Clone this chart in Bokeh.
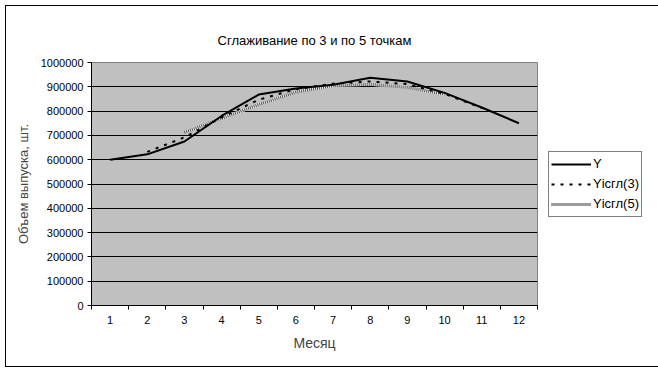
from bokeh.plotting import figure
from bokeh.models import (FixedTicker, Range1d, Legend, LegendItem,
                          BasicTickFormatter)
from bokeh.embed import file_html
from bokeh.resources import INLINE

# ---- data ----
months = [1, 2, 3, 4, 5, 6, 7, 8, 9, 10, 11, 12]
y_values = [600000, 622000, 675000, 780000, 868000, 893000, 908000, 937000, 922000, 875000, 815000, 750000]
months3 = [2, 3, 4, 5, 6, 7, 8, 9, 10, 11]
y3_values = [632000, 692000, 774000, 847000, 890000, 913000, 922000, 911000, 871000, 813000]
months5 = [3, 4, 5, 6, 7, 8, 9, 10]
y5_values = [712000, 770000, 827000, 878000, 905000, 910000, 897000, 870000]
y_ticks = [0, 100000, 200000, 300000, 400000, 500000, 600000, 700000, 800000, 900000, 1000000]
x_minor = [0.5 + i for i in range(13)]

title_text = "Сглаживание по 3 и по 5 точкам"
x_label = "Месяц"
y_label = "Объем выпуска, шт."
labels = ["Y", "Yісгл(3)", "Yісгл(5)"]

FONT = "Liberation Sans"

p = figure(width=645, height=360, frame_width=446, frame_height=243,
           output_backend="svg", toolbar_location=None,
           title=title_text,
           x_range=Range1d(0.5, 12.5), y_range=Range1d(0, 1000000),
           min_border_left=85, min_border_right=10, min_border_top=56, min_border_bottom=61)
p.styles = {"border": "1px solid black", "box-sizing": "content-box",
            "margin-left": "5px", "margin-top": "5px"}

p.background_fill_color = "#C0C0C0"
p.border_fill_color = "white"
p.outline_line_color = "#808080"

# title
p.title.align = "center"
p.title.offset = 14
p.title.standoff = 30
p.title.text_font = FONT
p.title.text_font_size = "13px"
p.title.text_font_style = "normal"
p.title.text_color = "black"

# grid
p.xgrid.visible = False
p.ygrid.ticker = FixedTicker(ticks=y_ticks[1:-1])
p.ygrid.grid_line_color = "black"
p.ygrid.grid_line_width = 1

# y axis
p.yaxis.ticker = FixedTicker(ticks=y_ticks)
p.yaxis.formatter = BasicTickFormatter(use_scientific=False)
p.yaxis.major_tick_out = 4
p.yaxis.major_tick_in = 0
p.yaxis.minor_tick_out = 0
p.yaxis.minor_tick_in = 0
p.yaxis.axis_line_color = "black"
p.yaxis.major_tick_line_color = "black"
p.yaxis.major_label_standoff = 4
p.yaxis.major_label_text_font = FONT
p.yaxis.major_label_text_font_size = "11px"
p.yaxis.major_label_text_color = "black"
p.yaxis.axis_label = y_label
p.yaxis.axis_label_text_font = FONT
p.yaxis.axis_label_text_font_size = "13px"
p.yaxis.axis_label_text_font_style = "normal"
p.yaxis.axis_label_standoff = 7

# x axis
p.xaxis.ticker = FixedTicker(ticks=months, minor_ticks=x_minor)
p.xaxis.major_tick_out = 0
p.xaxis.major_tick_in = 0
p.xaxis.minor_tick_out = 4
p.xaxis.minor_tick_in = 0
p.xaxis.minor_tick_line_color = "black"
p.xaxis.axis_line_color = "black"
p.xaxis.major_label_standoff = 6
p.xaxis.major_label_text_font = FONT
p.xaxis.major_label_text_font_size = "11px"
p.xaxis.major_label_text_color = "black"
p.xaxis.axis_label = x_label
p.xaxis.axis_label_text_font = FONT
p.xaxis.axis_label_text_font_size = "14px"
p.xaxis.axis_label_text_font_style = "normal"
p.xaxis.axis_label_standoff = 8

# series
r5a = p.line(months5, y5_values, line_color="#f0f0f0", line_width=3)
r5b = p.line(months5, y5_values, line_color="#4a4a4a", line_width=3, line_dash="1 1")
r3 = p.line(months3, y3_values, line_color="black", line_width=2, line_dash="3 6")
r1 = p.line(months, y_values, line_color="black", line_width=2)

legend = Legend(items=[LegendItem(label=labels[0], renderers=[r1]),
                       LegendItem(label=labels[1], renderers=[r3]),
                       LegendItem(label=labels[2], renderers=[r5a, r5b])],
                location="left")
legend.border_line_color = "black"
legend.border_line_width = 1
legend.background_fill_color = "white"
legend.background_fill_alpha = 1
legend.padding = 2
legend.spacing = 0
legend.margin = 11
legend.glyph_width = 40
legend.glyph_height = 20
legend.label_height = 20
legend.label_standoff = 2
legend.label_text_font = FONT
legend.label_text_font_size = "13px"
legend.label_text_color = "black"
p.add_layout(legend, "right")

open("out.html", "w").write(file_html(p, INLINE))
